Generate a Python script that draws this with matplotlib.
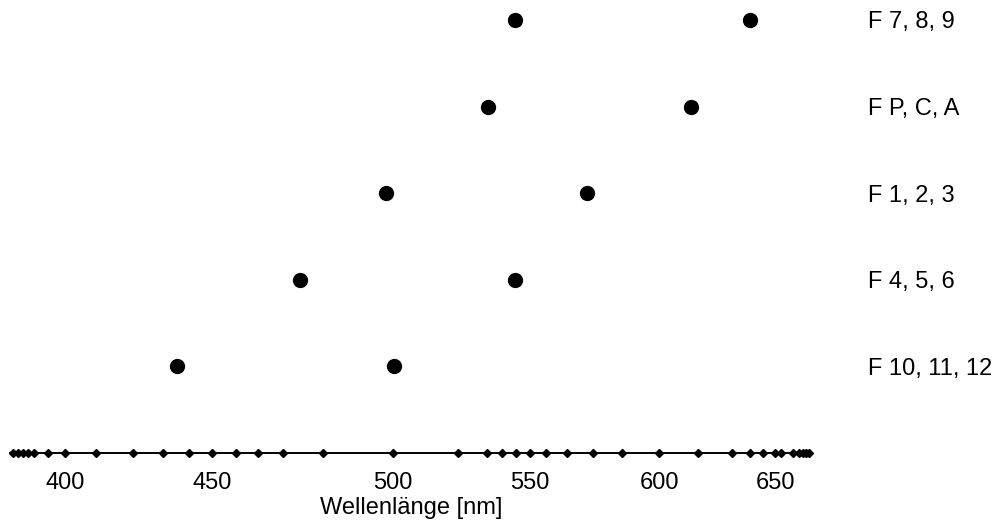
import numpy as np
import matplotlib
matplotlib.use("Agg")
import matplotlib.pyplot as plt
from matplotlib.ticker import FixedLocator, NullLocator

plt.rcParams['font.family'] = ['Liberation Sans', 'DejaVu Sans']

# Wavelength scale of the axis (nm) and its perceptual scale value (arbitrary units 0..100)
scale_wl = [340, 350, 360, 370, 380, 390, 400, 410, 420, 430, 440, 450, 460, 470,
            480, 490, 500, 510, 520, 530, 540, 550, 560, 570, 580, 590, 600, 610,
            620, 630, 640, 650, 660, 670, 680, 690, 700, 710]
scale_val = [0.0, 0.63, 1.26, 1.88, 2.64, 4.40, 6.53, 10.43, 15.08, 18.84, 22.11, 25.0,
             28.02, 30.78, 33.92, 38.94, 47.74, 55.90, 59.55, 61.43, 63.19, 64.95,
             66.96, 69.60, 72.86, 76.51, 81.16, 86.06, 90.33, 92.59, 94.22, 95.73,
             96.48, 97.99, 98.74, 99.25, 99.62, 100.0]

# Lamp groups (bottom to top) and their wavelength pairs
groups = ["F 10, 11, 12", "F 4, 5, 6", "F 1, 2, 3", "F P, C, A", "F 7, 8, 9"]
wl_short = [435.4, 484.3, 499.0, 520.6, 539.3]
wl_long = [500.2, 539.3, 577.6, 608.3, 629.9]

tick_wl = [400, 450, 500, 550, 600, 650]

WL = np.array(scale_wl, float)
U = np.array(scale_val, float)


def _ext(x, xs, ys):
    x = np.asarray(x, float)
    out = np.interp(x, xs, ys)
    sl = (ys[1] - ys[0]) / (xs[1] - xs[0])
    sr = (ys[-1] - ys[-2]) / (xs[-1] - xs[-2])
    out = np.where(x < xs[0], ys[0] + (x - xs[0]) * sl, out)
    out = np.where(x > xs[-1], ys[-1] + (x - xs[-1]) * sr, out)
    return out


def fwd(w):
    return _ext(w, WL, U)


def inv(u):
    return _ext(u, U, WL)


W, H = 1007, 524
fig = plt.figure(figsize=(W / 100, H / 100), dpi=100)

# axes geometry (pixels)
ax_l, ax_r = 10, 812
axis_y, top_row_y = 453, 20
ylo, yhi = -1, 4.2
ppu = (axis_y - top_row_y) / (4 - ylo)
top_px = top_row_y - (yhi - 4) * ppu
ax = fig.add_axes([ax_l / W, (H - axis_y) / H, (ax_r - ax_l) / W, (axis_y - top_px) / H])

ax.set_xscale('function', functions=(fwd, inv))
pad_u = 3 / 7.96
ax.set_xlim(float(inv(-pad_u)), float(inv(100 + pad_u)))
ax.set_ylim(ylo, yhi)

y = np.arange(len(groups))
ax.plot(wl_short, y, 'o', ms=10, color='black', clip_on=False)
ax.plot(wl_long, y, 'o', ms=10, color='black', clip_on=False)

# scale markers along the axis
ax.plot(scale_wl, np.full(len(scale_wl), ylo), 'D', ms=4.2, color='black', clip_on=False, zorder=5)

for s in ['left', 'top', 'right']:
    ax.spines[s].set_visible(False)
ax.spines['bottom'].set_linewidth(1.4)
ax.spines['bottom'].set_color('black')

fs = 17
ax.xaxis.set_major_locator(FixedLocator(tick_wl))
ax.xaxis.set_minor_locator(NullLocator())
ax.set_xticklabels([str(t) for t in tick_wl], fontsize=fs)
ax.tick_params(axis='x', length=0, pad=14)
ax.set_xlabel("Wellenlänge [nm]", fontsize=fs, labelpad=2)

ax.yaxis.tick_right()
ax.set_yticks(y)
ax.set_yticklabels(groups, fontsize=fs)
ax.tick_params(axis='y', length=0, pad=40)

fig.savefig("out.png", dpi=100)
